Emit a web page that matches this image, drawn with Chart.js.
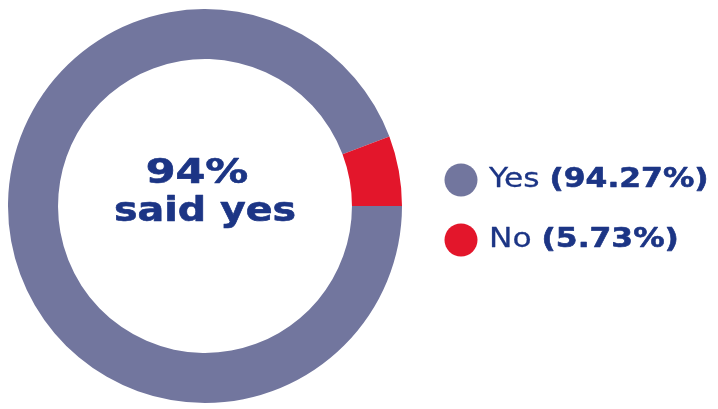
<!DOCTYPE html>
<html>
<head>
<meta charset="utf-8">
<script src="https://cdn.jsdelivr.net/npm/chart.js@4"></script>
<style>
  html, body { margin: 0; padding: 0; background: #fff; }
  canvas { display: block; }
</style>
</head>
<body>
<canvas id="pollChart" width="718" height="409"></canvas>
<script>
const labels = ["Yes", "No"];
const values = [94.27, 5.73];
const valueLabels = ["(94.27%)", "(5.73%)"];
const colors = ["#72769e", "#e3162b"];
const centerLines = ["94%", "said yes"];

const textColor = "#1c3585";

// center caption + legend drawn on the canvas
const overlay = {
    id: "overlay",
    afterDraw(chart) {
        const ctx = chart.ctx;
        const arc = chart.getDatasetMeta(0).data[0];
        const cx = arc.x, cy = arc.y;

        ctx.save();
        ctx.fillStyle = textColor;
        ctx.strokeStyle = textColor;
        ctx.lineJoin = "round";
        ctx.textAlign = "center";
        ctx.textBaseline = "alphabetic";
        ctx.font = "bold 33px 'DejaVu Sans'";
        const lineSpecs = [
            { dx: -8, dy: -23, sx: 1.3 },
            { dx: 0, dy: 15, sx: 1.2 }
        ];
        centerLines.forEach((t, i) => {
            const s = lineSpecs[i];
            ctx.save();
            ctx.translate(cx + s.dx, cy + s.dy);
            ctx.scale(s.sx, 1);
            ctx.lineWidth = 0.6;
            ctx.fillText(t, 0, 0);
            ctx.strokeText(t, 0, 0);
            ctx.restore();
        });

        // legend
        const lx = 461, ly = [180, 240];
        ctx.textAlign = "left";
        labels.forEach((lab, i) => {
            ctx.beginPath();
            ctx.arc(lx, ly[i], 16.5, 0, Math.PI * 2);
            ctx.fillStyle = colors[i];
            ctx.fill();

            ctx.save();
            ctx.translate(489, ly[i] + 7);
            ctx.scale(1.16, 1);
            ctx.fillStyle = textColor;
            ctx.strokeStyle = textColor;
            ctx.font = "27px 'DejaVu Sans'";
            const w = ctx.measureText(lab + " ").width;
            ctx.fillText(lab + " ", 0, 0);
            ctx.lineWidth = 0.3;
            ctx.strokeText(lab + " ", 0, 0);
            ctx.font = "bold 27px 'DejaVu Sans'";
            ctx.fillText(valueLabels[i], w, 0);
            ctx.lineWidth = 0.6;
            ctx.strokeText(valueLabels[i], w, 0);
            ctx.restore();
        });
        ctx.restore();
    }
};

new Chart(document.getElementById("pollChart"), {
    type: "doughnut",
    data: {
        labels: labels,
        datasets: [{
            data: values,
            backgroundColor: colors,
            borderWidth: 0,
            hoverOffset: 0
        }]
    },
    options: {
        responsive: false,
        animation: false,
        rotation: 90,
        cutout: "74.6%",
        layout: { padding: { left: 8, top: 9, right: 316, bottom: 6 } },
        plugins: {
            legend: { display: false },
            tooltip: { enabled: false }
        }
    },
    plugins: [overlay]
});
</script>
</body>
</html>
